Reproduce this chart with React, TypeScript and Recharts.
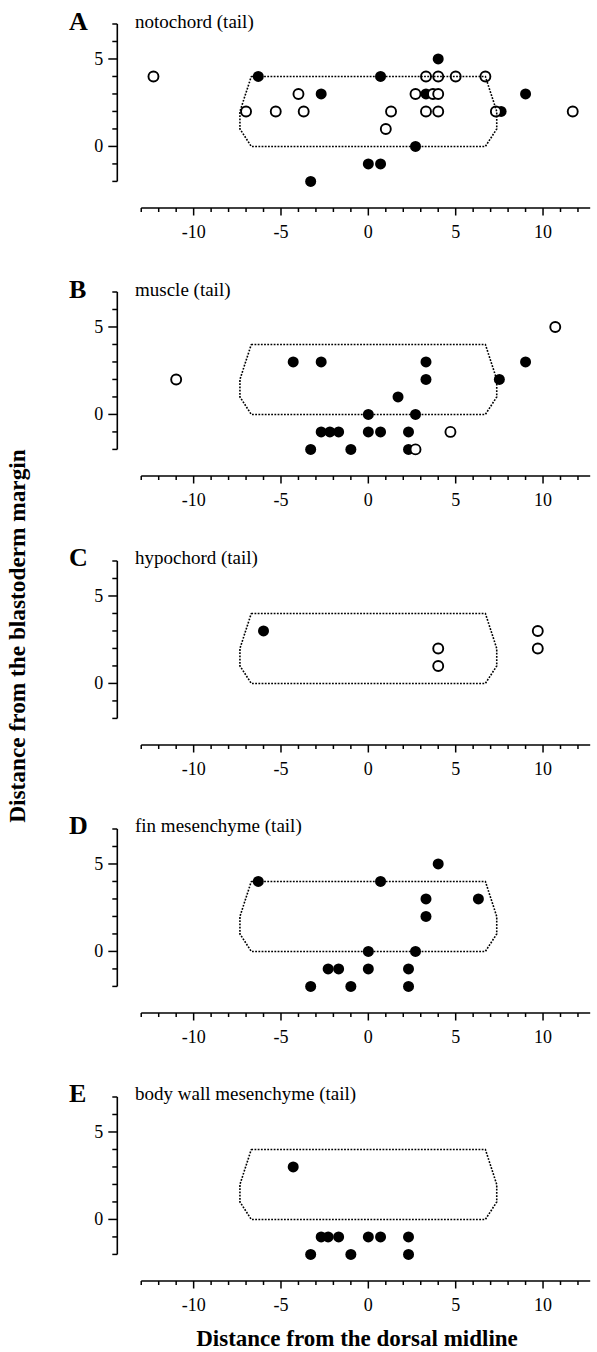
import { ScatterChart, Scatter, XAxis, YAxis, ReferenceLine } from "recharts";

// axis ticks (every unit gets a tick, only multiples of 5 get a label)
const xTicks = [-13, -12, -11, -10, -9, -8, -7, -6, -5, -4, -3, -2, -1, 0, 1, 2, 3, 4, 5, 6, 7, 8, 9, 10, 11, 12];
const yTicks = [-2, -1, 0, 1, 2, 3, 4, 5, 6, 7];
const xLabels = [-10, -5, 0, 5, 10];
const yLabels = [0, 5];

const X_MIN = -14.37;
const X_MAX = 12.7;
const Y_MIN = -3.52;
const Y_MAX = 7;

// dotted outline of the tail-bud region
const outline = [
  { x: -6.7, y: 4 }, { x: 6.7, y: 4 }, { x: 7.35, y: 2 }, { x: 7.35, y: 1 },
  { x: 6.7, y: 0 }, { x: -6.7, y: 0 }, { x: -7.35, y: 1 }, { x: -7.35, y: 2 }, { x: -6.7, y: 4 },
];

const notochordFilled = [
  { x: 4, y: 5 }, { x: -6.3, y: 4 }, { x: 0.7, y: 4 }, { x: -2.7, y: 3 }, { x: 3.3, y: 3 },
  { x: 9, y: 3 }, { x: 7.6, y: 2 }, { x: 2.7, y: 0 }, { x: 0, y: -1 }, { x: 0.7, y: -1 }, { x: -3.3, y: -2 },
];
const notochordOpen = [
  { x: -12.3, y: 4 }, { x: 3.3, y: 4 }, { x: 4, y: 4 }, { x: 5, y: 4 }, { x: 6.7, y: 4 },
  { x: -4, y: 3 }, { x: 2.7, y: 3 }, { x: 3.7, y: 3 }, { x: 4, y: 3 },
  { x: -7, y: 2 }, { x: -5.3, y: 2 }, { x: -3.7, y: 2 }, { x: 1.3, y: 2 }, { x: 3.3, y: 2 },
  { x: 4, y: 2 }, { x: 7.3, y: 2 }, { x: 11.7, y: 2 }, { x: 1, y: 1 },
];

const muscleFilled = [
  { x: -4.3, y: 3 }, { x: -2.7, y: 3 }, { x: 3.3, y: 3 }, { x: 9, y: 3 }, { x: 3.3, y: 2 },
  { x: 7.5, y: 2 }, { x: 1.7, y: 1 }, { x: 0, y: 0 }, { x: 2.7, y: 0 },
  { x: -2.7, y: -1 }, { x: -2.2, y: -1 }, { x: -1.7, y: -1 }, { x: 0, y: -1 }, { x: 0.7, y: -1 }, { x: 2.3, y: -1 },
  { x: -3.3, y: -2 }, { x: -1, y: -2 }, { x: 2.3, y: -2 },
];
const muscleOpen = [{ x: 10.7, y: 5 }, { x: -11, y: 2 }, { x: 4.7, y: -1 }, { x: 2.7, y: -2 }];

const hypochordFilled = [{ x: -6, y: 3 }];
const hypochordOpen = [{ x: 4, y: 2 }, { x: 4, y: 1 }, { x: 9.7, y: 3 }, { x: 9.7, y: 2 }];

const finFilled = [
  { x: 4, y: 5 }, { x: -6.3, y: 4 }, { x: 0.7, y: 4 }, { x: 3.3, y: 3 }, { x: 6.3, y: 3 }, { x: 3.3, y: 2 },
  { x: 0, y: 0 }, { x: 2.7, y: 0 }, { x: -2.3, y: -1 }, { x: -1.7, y: -1 }, { x: 0, y: -1 }, { x: 2.3, y: -1 },
  { x: -3.3, y: -2 }, { x: -1, y: -2 }, { x: 2.3, y: -2 },
];
const finOpen: { x: number; y: number }[] = [];

const bodyWallFilled = [
  { x: -4.3, y: 3 }, { x: -2.7, y: -1 }, { x: -2.3, y: -1 }, { x: -1.7, y: -1 }, { x: 0, y: -1 },
  { x: 0.7, y: -1 }, { x: 2.3, y: -1 }, { x: -3.3, y: -2 }, { x: -1, y: -2 }, { x: 2.3, y: -2 },
];
const bodyWallOpen: { x: number; y: number }[] = [];

const panels = [
  { letter: "A", title: "notochord (tail)", filled: notochordFilled, open: notochordOpen },
  { letter: "B", title: "muscle (tail)", filled: muscleFilled, open: muscleOpen },
  { letter: "C", title: "hypochord (tail)", filled: hypochordFilled, open: hypochordOpen },
  { letter: "D", title: "fin mesenchyme (tail)", filled: finFilled, open: finOpen },
  { letter: "E", title: "body wall mesenchyme (tail)", filled: bodyWallFilled, open: bodyWallOpen },
];

const FONT = "'Liberation Serif', 'Times New Roman', serif";
const TOP0 = 24.3;
const STEP = 268.1;

const YTick = ({ x, y, payload }: any) => {
  const major = yLabels.includes(payload.value);
  return (
    <g>
      <line x1={x} x2={x - (major ? 9 : 5)} y1={y} y2={y} stroke="#000" strokeWidth={1.5} />
      {major && (
        <text x={x - 14} y={y + 6} textAnchor="end" fontSize={18} fontFamily={FONT} fill="#000">
          {payload.value}
        </text>
      )}
    </g>
  );
};

const XTick = ({ x, y, payload }: any) => {
  const major = xLabels.includes(payload.value);
  return (
    <g>
      <line x1={x} x2={x} y1={y} y2={y + (major ? 7.5 : 4)} stroke="#000" strokeWidth={1.5} />
      {major && (
        <text x={x} y={y + 30} textAnchor="middle" fontSize={18} fontFamily={FONT} fill="#000">
          {payload.value}
        </text>
      )}
    </g>
  );
};

const Dot = (props: any) => <circle cx={props.cx} cy={props.cy} r={5.5} fill="#000" />;
const Ring = (props: any) => <circle cx={props.cx} cy={props.cy} r={5} fill="#fff" stroke="#000" strokeWidth={1.9} />;
const NoMark = () => <g />;

function Panel({ filled, open }: { filled: any[]; open: any[] }) {
  return (
    <ScatterChart width={597} height={268} margin={{ top: 24, right: 6.8, left: 57.3, bottom: 30 }}>
      <XAxis
        type="number" dataKey="x" domain={[X_MIN, X_MAX]} allowDataOverflow
        ticks={xTicks} interval={0} tickSize={0} tickMargin={0}
        axisLine={false} tickLine={false} tick={<XTick />}
      />
      <YAxis
        type="number" dataKey="y" domain={[Y_MIN, Y_MAX]} allowDataOverflow
        ticks={yTicks} interval={0} tickSize={0} tickMargin={0}
        axisLine={false} tickLine={false} tick={<YTick />}
      />
      <ReferenceLine segment={[{ x: -13, y: Y_MIN }, { x: X_MAX, y: Y_MIN }]} stroke="#000" strokeWidth={1.6} ifOverflow="visible" />
      <ReferenceLine segment={[{ x: X_MIN, y: -2 }, { x: X_MIN, y: Y_MAX }]} stroke="#000" strokeWidth={1.6} ifOverflow="visible" />
      <Scatter data={filled} shape={<Dot />} isAnimationActive={false} />
      <Scatter data={open} shape={<Ring />} isAnimationActive={false} />
      <Scatter
        data={outline} shape={<NoMark />} isAnimationActive={false}
        line={{ stroke: "#000", strokeWidth: 1.6, strokeDasharray: "1.8 1.4" }}
      />
    </ScatterChart>
  );
}

export default function App() {
  return (
    <div style={{ position: "absolute", left: 0, top: 0, width: 597, height: 1352, background: "#fff" }}>
      {panels.map((p, i) => (
        <div key={p.letter} style={{ position: "absolute", left: 0, top: TOP0 + i * STEP - 24 }}>
          <Panel filled={p.filled} open={p.open} />
        </div>
      ))}
      <svg width={597} height={1352} style={{ position: "absolute", left: 0, top: 0, pointerEvents: "none" }}>
        {panels.map((p, i) => (
          <g key={p.letter}>
            <text x={69} y={TOP0 + i * STEP + 5.7} fontSize={26} fontWeight="bold" fontFamily={FONT}>
              {p.letter}
            </text>
            <text x={135} y={TOP0 + i * STEP + 3.7} fontSize={19} fontFamily={FONT}>
              {p.title}
            </text>
          </g>
        ))}
        <text x={357} y={1346} textAnchor="middle" fontSize={23} fontWeight="bold" fontFamily={FONT}>
          Distance from the dorsal midline
        </text>
        <text transform="translate(25,636) rotate(-90)" textAnchor="middle" fontSize={23.3} fontWeight="bold" fontFamily={FONT}>
          Distance from the blastoderm margin
        </text>
      </svg>
    </div>
  );
}
